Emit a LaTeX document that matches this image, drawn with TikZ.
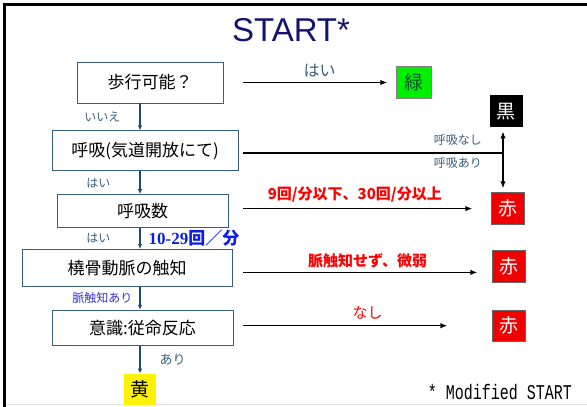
\documentclass[tikz,border=0pt]{standalone}
\usepackage{fontspec}
\usepackage{graphicx}
\setmainfont{Noto Sans CJK JP}
\newfontfamily\startfont{Liberation Sans}
\newfontfamily\ratefont{Liberation Serif}
\newfontfamily\modfont{Liberation Mono}
\usetikzlibrary{positioning,arrows.meta}
\definecolor{slate}{RGB}{55,95,125}
\definecolor{flowblue}{RGB}{30,75,115}
\definecolor{navy}{RGB}{20,20,110}
\definecolor{pulseblue}{RGB}{50,50,210}
\definecolor{rateblue}{RGB}{10,30,230}
\definecolor{triagegreen}{RGB}{0,240,0}
\definecolor{greentext}{RGB}{0,80,40}
\definecolor{triagered}{RGB}{240,0,0}

\begin{document}
\begin{tikzpicture}[x=1pt,y=-1pt,
    box/.style={draw=slate, line width=0.8pt, inner sep=0pt, font=\fontsize{17}{20}\selectfont},
    tag/.style={minimum width=33pt, minimum height=32pt, inner sep=0pt, font=\fontsize{19}{21}\selectfont},
    down/.style={draw=flowblue, line width=1.2pt, -{Latex[length=5pt,width=4.5pt]}},
    go/.style={line width=1.4pt, -{Latex[length=7pt,width=5.5pt]}},
    note/.style={text=slate, font=\fontsize{12}{14}\selectfont, inner sep=1pt},
    redlabel/.style={text=red, font=\bfseries\fontsize{15}{17}\selectfont, inner sep=1pt}]
\useasboundingbox (0,0) rectangle (587,407);
\draw[line width=3pt] (4.5,407) -- (4.5,4.5) -- (587,4.5);
\draw[black!12, line width=0.8pt] (6,404.5) -- (587,404.5);

\node[text=navy, font=\startfont\fontsize{33}{36}\selectfont] (title) at (291,30) {START*};

% left column
\node[box, minimum width=146pt, minimum height=41pt] (walk) at (150,82.5) {歩行可能？};
\node[box, minimum width=186pt, minimum height=40pt, below=27pt of walk, xshift=-5pt] (breath) {呼吸(気道開放にて)};
\node[box, minimum width=171pt, minimum height=33pt, below=23pt of breath, xshift=-2.5pt] (rate) {呼吸数};
\node[box, minimum width=210pt, minimum height=37pt, below=21pt of rate, xshift=-15.5pt] (pulse) {橈骨動脈の触知};
\node[box, minimum width=181pt, minimum height=35pt, below=23pt of pulse, xshift=15.5pt] (mind) {意識:従命反応};
\node[tag, fill=yellow, minimum width=32pt, minimum height=31pt, below=28pt of mind, xshift=-2.5pt] (ylw) {黄};

% right column
\node[tag, fill=triagegreen, draw=black!50, text=greentext, minimum width=35pt, right=173pt of walk] (grn) {緑};
\node[tag, fill=triagered, draw=black!60, text=white, right=263pt of rate, yshift=2.5pt] (red1) {赤};
\node[tag, fill=black, text=white, above=65pt of red1, xshift=-2pt] (blk) {黒};
\node[tag, fill=triagered, draw=black!60, text=white, right=260pt of pulse, yshift=1.5pt] (red2) {赤};
\node[tag, fill=triagered, draw=black!60, text=white, minimum height=31pt, right=259pt of mind, yshift=2pt] (red3) {赤};

\coordinate (rhs) at (243,0);
\coordinate (junc) at (503,153);

\draw[down] (walk.south -| ylw) -- node[note, left=18pt] {いいえ} (breath.north -| ylw);
\draw[down] (breath.south -| ylw) -- node[note, left=28pt] {はい} (rate.north -| ylw);
\draw[down] (rate.south -| ylw) -- node[note, left=28pt] {はい}
    node[right=8pt, text=rateblue, font=\bfseries\fontsize{17}{19}\selectfont, inner sep=0pt] {{\ratefont 10-29}回／分} (pulse.north -| ylw);
\draw[down] (pulse.south -| ylw) -- node[note, text=pulseblue, left=6pt] {脈触知あり} (mind.north -| ylw);
\draw[down] (mind.south -| ylw) -- node[note, font=\fontsize{13}{15}\selectfont, right=18pt] {あり} (ylw.north);

\draw[go, shorten >=9pt] (walk.east -| rhs) -- node[above=4pt, text=slate, font=\fontsize{16}{18}\selectfont, inner sep=1pt] {はい} (grn.west);
\draw[line width=1.4pt] (junc -| rhs) -- (junc);
\draw[go, {Latex[length=7pt,width=5.5pt]}-{Latex[length=7pt,width=5.5pt]}, shorten <=4pt, shorten >=4pt] (junc |- blk.south) -- (junc |- red1.north);
\node[note, above left=6pt and 20pt of junc] (nobreath) {呼吸なし};
\node[note, below left=3pt and 20pt of junc] (yesbreath) {呼吸あり};
\draw[go, shorten >=19pt] (red1.west -| rhs) -- node[redlabel, above=5pt, pos=0.45] {9回/分以下、30回/分以上} (red1.west);
\draw[go, shorten >=15pt] ([yshift=-6pt]red2.west -| rhs) -- node[redlabel, above=3pt] {脈触知せず、微弱} ([yshift=-6pt]red2.west);
\draw[go, shorten >=45pt] (red3.west -| rhs) -- node[above=5pt, text=red, font=\fontsize{15}{17}\selectfont, inner sep=1pt] {なし} (red3.west);

\node[font=\modfont\fontsize{15}{16}\selectfont, inner sep=0pt] (modified) at (500,392) {\scalebox{1}[1.4]{* Modified START}};
\end{tikzpicture}
\end{document}
